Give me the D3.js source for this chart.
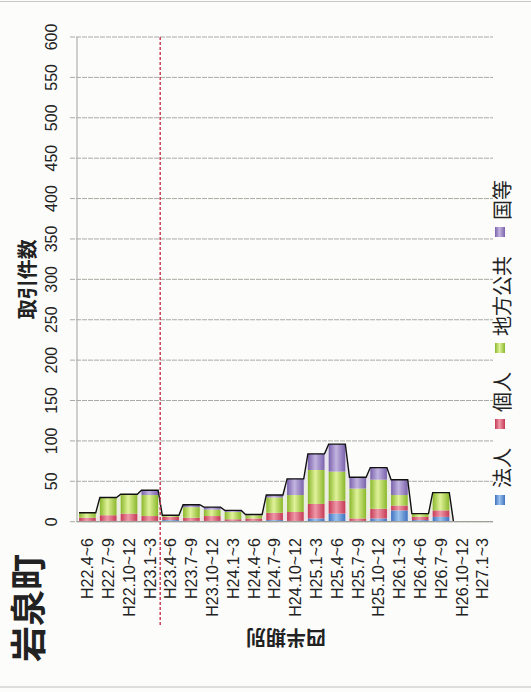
<!DOCTYPE html>
<html><head><meta charset="utf-8">
<script src="https://cdn.jsdelivr.net/npm/d3@7"></script>
<style>
html,body{margin:0;padding:0;background:#fcfcfa;}
svg{display:block;}
text{font-family:"Liberation Sans",Arial,"Noto Sans CJK JP",sans-serif;fill:#222;}
.cjk{font-family:"Noto Sans CJK JP","Noto Sans CJK SC",sans-serif;}
</style></head>
<body>
<script>
const categories = ["H22.4~6","H22.7~9","H22.10~12","H23.1~3","H23.4~6","H23.7~9","H23.10~12","H24.1~3","H24.4~6","H24.7~9","H24.10~12","H25.1~3","H25.4~6","H25.7~9","H25.10~12","H26.1~3","H26.4~6","H26.7~9","H26.10~12","H27.1~3"];
const seriesNames = ["法人","個人","地方公共","国等"];
const corp  = [1,1,1,1,2,1,1,1,1,2,1,4,10,1,4,14,2,6,0,0];
const indiv = [4,7,9,6,4,4,6,2,3,9,11,18,16,3,12,6,4,8,0,0];
const local = [6,22,24,26,2,13,8,9,4,19,21,42,36,37,36,13,4,22,0,0];
const nat   = [0,0,0,6,0,3,3,2,1,3,20,20,34,14,15,19,0,0,0,0];
const yTicks = [0,50,100,150,200,250,300,350,400,450,500,550,600];
const title = "岩泉町";
const yTitle = "取引件数";
const xTitle = "四半期別";
const dividerAfter = "H23.1~3";

const W = 531, H = 692;
const colors = {
  "法人":    {edge:"#3f72c0", mid:"#9cc2ee", pale:"#e2e8f0"},
  "個人":    {edge:"#c63a55", mid:"#ee98a8", pale:"#efe2e5"},
  "地方公共":{edge:"#8ab82c", mid:"#e0f29a", pale:"#e9eede"},
  "国等":    {edge:"#7a62ac", mid:"#c2b4e0", pale:"#e8e4ee"}
};

const svg = d3.select("body").append("svg").attr("width",W).attr("height",H);
const defs = svg.append("defs");
seriesNames.forEach((n,k)=>{
  const g = defs.append("linearGradient").attr("id","g"+k).attr("x1","0").attr("x2","1").attr("y1","0").attr("y2","0");
  g.append("stop").attr("offset","0%").attr("stop-color",colors[n].edge);
  g.append("stop").attr("offset","45%").attr("stop-color",colors[n].mid);
  g.append("stop").attr("offset","100%").attr("stop-color",colors[n].edge);
});

// page borders
svg.append("line").attr("x1",0).attr("x2",W).attr("y1",1.5).attr("y2",1.5).attr("stroke","#c8c8c4").attr("stroke-width",1.2);
svg.append("line").attr("x1",0).attr("x2",W).attr("y1",687).attr("y2",687).attr("stroke","#bdbdb8").attr("stroke-width",1.2);

const x = d3.scaleBand().domain(categories).range([77,493]);
const y = d3.scaleLinear().domain([0,600]).range([521.7,37]);

// gridlines
svg.append("g").selectAll("line").data(yTicks).join("line")
  .attr("x1",70).attr("x2",493).attr("y1",d=>y(d)).attr("y2",d=>y(d))
  .attr("stroke","#aaaaa4").attr("stroke-width",1).attr("stroke-dasharray","5,1");
// y axis line
svg.append("line").attr("x1",77).attr("x2",77).attr("y1",y(600)).attr("y2",y(0)).attr("stroke","#b0b0aa").attr("stroke-width",1.2);

// y tick labels (rotated)
svg.append("g").selectAll("text").data(yTicks).join("text")
  .attr("transform",d=>`translate(56.5,${y(d)}) rotate(-90)`)
  .attr("text-anchor","middle").attr("font-size",16).text(d=>d);

// stacked data
const rows = categories.map((c,i)=>({cat:c,"法人":corp[i],"個人":indiv[i],"地方公共":local[i],"国等":nat[i]}));
const stack = d3.stack().keys(seriesNames)(rows);
const bw = x.bandwidth(), cw = bw*0.8;
const edgePts = d => d.flatMap((p,i)=>{const cx=x(categories[i])+bw/2; return [{x:cx-cw/2,y0:p[0],y1:p[1],i:i,side:0},{x:cx+cw/2,y0:p[0],y1:p[1],i:i,side:1}];});
const area = d3.area().x(d=>d.x).y0(d=>y(d.y0)).y1(d=>y(d.y1));

const plot = svg.append("g");
stack.forEach((layer,k)=>{
  plot.append("path").datum(edgePts(layer)).attr("d",area).attr("fill",colors[layer.key].pale).attr("stroke","none");
});
stack.forEach((layer,k)=>{
  plot.append("g").selectAll("rect").data(layer).join("rect")
    .attr("x",(d,i)=>x(categories[i])+bw/2-cw/2).attr("width",cw)
    .attr("y",d=>y(d[1])).attr("height",d=>y(d[0])-y(d[1]))
    .attr("fill","url(#g"+k+")");
});
// top outline
const topLayer = stack[stack.length-1];
const totals = topLayer.map(p=>p[1]);
const line = d3.line().x(d=>d.x).y(d=>y(d.y1))
  .defined(d=> totals[d.i]>0 || (d.side===0 && d.i>0 && totals[d.i-1]>0));
plot.append("path").datum(edgePts(topLayer)).attr("d",line).attr("fill","none").attr("stroke","#111").attr("stroke-width",1.4);

// x axis line
svg.append("line").attr("x1",77).attr("x2",493).attr("y1",y(0)).attr("y2",y(0)).attr("stroke","#a0a09a").attr("stroke-width",1.2);

// category labels
svg.append("g").selectAll("text").data(categories).join("text")
  .attr("transform",d=>`translate(${x(d)+bw/2+5.8},538) rotate(-90)`)
  .attr("text-anchor","end").attr("font-size",16).text(d=>d);

// divider
svg.append("line").attr("x1",x(dividerAfter)+bw).attr("x2",x(dividerAfter)+bw)
  .attr("y1",y(600)).attr("y2",625).attr("stroke","#c8324e").attr("stroke-width",1.4).attr("stroke-dasharray","3,2");

// y title
svg.append("text").attr("class","cjk").attr("transform",`translate(35,${(y(0)+y(600))/2}) rotate(-90)`)
  .attr("text-anchor","middle").attr("font-size",20).attr("font-weight","bold").text(yTitle);

// x title (upside down)
svg.append("text").attr("class","cjk").attr("transform","translate(286,629.5) rotate(180)")
  .attr("text-anchor","middle").attr("font-size",20).attr("font-weight","bold").text(xTitle);

// main title
svg.append("text").attr("class","cjk").attr("transform","translate(42,608) rotate(-90)")
  .attr("text-anchor","middle").attr("font-size",36).attr("font-weight","bold").attr("fill","#1a1a1a").text(title);

// legend
const lg = svg.append("g");
let ly = 505;
seriesNames.forEach((n,k)=>{
  lg.append("rect").attr("x",495).attr("y",ly-10).attr("width",10).attr("height",10).attr("fill","url(#g"+k+")");
  ly -= 17;
  const t = lg.append("text").attr("class","cjk").attr("transform",`translate(510,${ly}) rotate(-90)`)
    .attr("text-anchor","start").attr("font-size",20).text(n);
  ly -= t.node().getComputedTextLength() + 19;
});
</script>
</body></html>
